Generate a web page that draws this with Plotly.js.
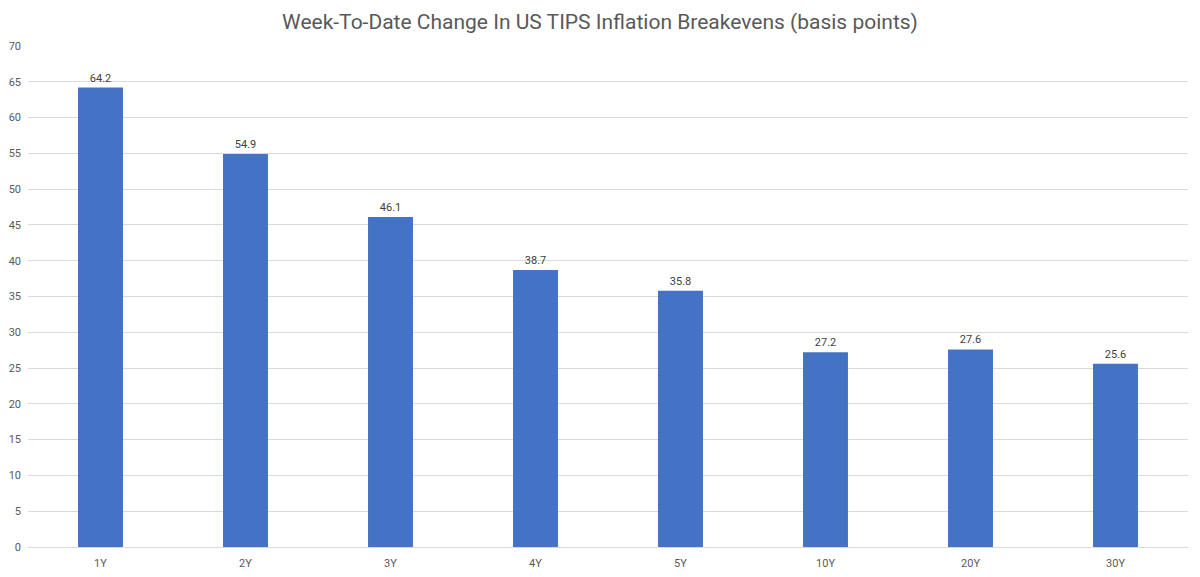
<!DOCTYPE html>
<html>
<head>
<meta charset="utf-8">
<script src="https://cdn.plot.ly/plotly-3.0.1.min.js"></script>
<style>
  html, body { margin: 0; padding: 0; background: #fff; }
  #chart { width: 1200px; height: 577px; }
</style>
</head>
<body>
<div id="chart"></div>
<script>
var tenors = ['1Y', '2Y', '3Y', '4Y', '5Y', '10Y', '20Y', '30Y'];
var changesBp = [64.2, 54.9, 46.1, 38.7, 35.8, 27.2, 27.6, 25.6];
var yTicks = [0, 5, 10, 15, 20, 25, 30, 35, 40, 45, 50, 55, 60, 65, 70];

var textColor = '#595959';
var gridColor = '#d9d9d9';

var trace = {
  type: 'bar',
  x: tenors,
  y: changesBp,
  text: changesBp.map(function(v) { return v.toFixed(1); }),
  textposition: 'outside',
  textfont: { size: 11, color: '#404040' },
  cliponaxis: false,
  marker: { color: '#4472c4', line: { width: 0 } },
  hoverinfo: 'x+y',
};

var layout = {
  title: {
    text: 'Week-To-Date Change In US TIPS Inflation Breakevens (basis points)',
    font: { size: 21, color: textColor, family: 'Roboto, sans-serif' },
    x: 0.5,
    xanchor: 'center',
    y: 0.962,
    yanchor: 'middle',
  },
  font: { family: 'Roboto, sans-serif', color: textColor },
  xaxis: {
    type: 'category',
    showline: true,
    linecolor: gridColor,
    linewidth: 1,
    showgrid: false,
    ticks: '',
    tickfont: { size: 11, color: textColor },
    ticklabelstandoff: 6,
  },
  yaxis: {
    range: [0, 70],
    tickvals: yTicks,
    showline: false,
    gridcolor: gridColor,
    gridwidth: 1,
    zeroline: false,
    ticks: '',
    tickfont: { size: 11, color: textColor },
    ticklabelstandoff: 6,
  },
  bargap: 0.69,
  showlegend: false,
  plot_bgcolor: '#ffffff',
  paper_bgcolor: '#ffffff',
  margin: { t: 46, r: 12, b: 30, l: 28 },
  width: 1200,
  height: 577,
};

Plotly.newPlot('chart', [trace], layout, { displayModeBar: false, staticPlot: true });
</script>
</body>
</html>
